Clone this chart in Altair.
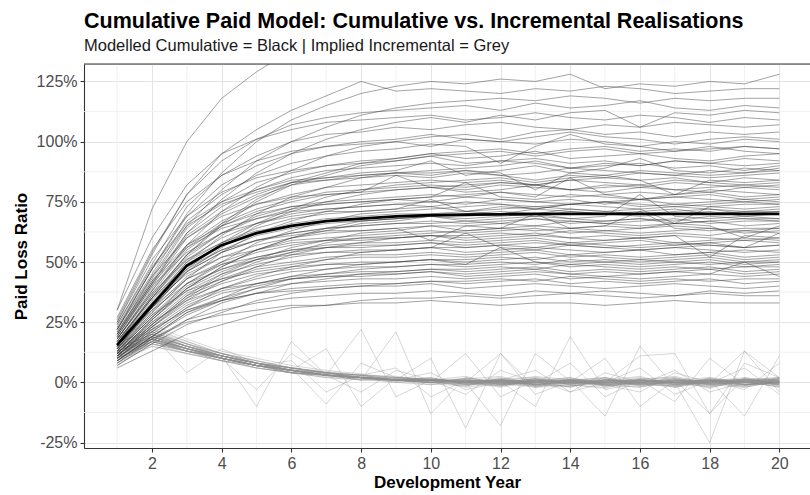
import altair as alt
import pandas as pd

# Development years on the x axis
dev_years = list(range(1, 21))

# Expected cumulative paid loss ratio (%) – the thick black path
expected_cumulative = [15.5, 32, 48.5, 57, 62, 65, 67, 68, 69, 69.5,
                       69.7, 69.8, 70, 70, 70, 70, 70, 70, 70, 70]

# Simulated cumulative paid loss ratios (%), one list per realisation
cumulative_paths = [
    [30, 72, 100, 118, 129, 138, 142, 145, 147, 149, 150, 151, 150, 152, 151, 150, 152, 151, 150, 151],
    [22, 47, 70, 87, 100, 109, 115, 120, 123, 125, 124, 126, 125, 128, 122, 124, 123, 125, 124, 128],
    [26, 54, 78, 95, 105, 113, 119, 125, 121, 122, 121, 120, 122, 121, 123, 122, 120, 121, 122, 122],
    [20, 44, 65, 80, 92, 100, 106, 111, 114, 116, 117, 118, 117, 119, 118, 116, 118, 117, 118, 118],
    [25, 53, 78, 92, 101, 107, 110, 112, 113, 114, 115, 113, 116, 114, 115, 117, 114, 113, 115, 114],
    [19, 41, 62, 76, 87, 95, 101, 105, 108, 110, 108, 111, 109, 112, 113, 106, 112, 111, 113, 112],
    [30, 60, 82, 95, 101, 105, 108, 109, 110, 111, 109, 110, 112, 110, 109, 111, 110, 108, 110, 109],
    [24, 49, 73, 86, 94, 100, 103, 104, 106, 105, 107, 108, 106, 105, 107, 106, 108, 107, 106, 107],
    [18, 38, 57, 71, 81, 88, 94, 98, 100, 102, 103, 101, 104, 105, 103, 104, 102, 104, 103, 104],
    [22, 47, 69, 82, 90, 95, 98, 100, 101, 103, 101, 100, 102, 104, 102, 101, 99, 101, 102, 101],
    [27, 55, 75, 86, 92, 96, 98, 99, 100, 98, 101, 100, 99, 101, 100, 98, 100, 99, 101, 100],
    [16, 35, 53, 66, 76, 83, 87, 91, 93, 95, 96, 97, 95, 97, 98, 96, 97, 96, 98, 97],
    [22, 45, 67, 78, 86, 91, 94, 96, 97, 99, 98, 91, 98, 103, 99, 98, 96, 97, 98, 97],
    [16, 36, 53, 65, 75, 82, 86, 90, 92, 94, 95, 96, 94, 96, 97, 95, 96, 98, 96, 95],
    [21, 43, 64, 75, 83, 87, 90, 92, 93, 95, 93, 94, 96, 93, 94, 95, 93, 92, 94, 95],
    [25, 51, 69, 79, 85, 88, 90, 91, 92, 94, 91, 92, 93, 91, 92, 90, 92, 91, 93, 92],
    [20, 42, 62, 73, 80, 85, 88, 89, 90, 91, 90, 92, 91, 89, 91, 90, 92, 91, 90, 91],
    [15, 33, 50, 61, 70, 77, 81, 85, 87, 88, 89, 90, 92, 89, 90, 91, 89, 90, 88, 90],
    [20, 41, 61, 71, 78, 83, 85, 87, 88, 92, 86, 88, 90, 87, 89, 93, 88, 87, 89, 88],
    [19, 40, 60, 70, 77, 82, 84, 86, 87, 87, 88, 86, 87, 89, 88, 87, 86, 88, 87, 89],
    [24, 48, 66, 75, 80, 84, 85, 86, 87, 86, 88, 87, 80, 87, 86, 88, 87, 86, 87, 88],
    [23, 47, 65, 74, 79, 83, 84, 85, 86, 85, 87, 86, 84, 86, 85, 87, 86, 85, 86, 87],
    [14, 31, 47, 58, 66, 72, 77, 80, 82, 83, 84, 85, 83, 85, 86, 84, 85, 83, 85, 84],
    [18, 39, 57, 67, 74, 78, 81, 82, 83, 84, 83, 84, 82, 84, 85, 84, 78, 84, 83, 84],
    [14, 31, 46, 56, 65, 71, 75, 78, 80, 81, 82, 83, 82, 84, 83, 82, 84, 83, 82, 83],
    [18, 38, 56, 66, 72, 76, 79, 80, 81, 82, 81, 83, 82, 80, 82, 81, 83, 82, 81, 82],
    [18, 37, 55, 65, 71, 75, 78, 79, 80, 81, 80, 82, 81, 80, 81, 82, 80, 81, 82, 81],
    [22, 44, 60, 69, 74, 77, 78, 79, 86, 81, 79, 80, 82, 80, 79, 81, 80, 79, 81, 80],
    [13, 29, 43, 54, 62, 67, 71, 74, 76, 77, 78, 79, 77, 85, 78, 79, 78, 80, 79, 78],
    [17, 36, 53, 62, 69, 73, 75, 76, 77, 78, 77, 79, 78, 77, 78, 76, 78, 79, 77, 78],
    [17, 35, 52, 62, 68, 72, 74, 75, 76, 77, 83, 77, 76, 78, 77, 76, 77, 78, 76, 77],
    [21, 42, 57, 65, 70, 73, 74, 75, 76, 75, 77, 76, 75, 76, 74, 76, 77, 76, 75, 76],
    [17, 35, 51, 60, 66, 70, 72, 73, 74, 75, 74, 76, 75, 74, 75, 76, 74, 75, 76, 75],
    [20, 41, 56, 64, 68, 71, 72, 73, 74, 73, 75, 74, 73, 74, 75, 74, 73, 74, 75, 74],
    [13, 27, 41, 50, 58, 63, 67, 70, 71, 72, 73, 74, 72, 74, 75, 73, 74, 73, 74, 74],
    [16, 34, 50, 58, 64, 68, 70, 71, 72, 76, 71, 73, 72, 74, 73, 72, 66, 73, 72, 73],
    [19, 40, 54, 62, 66, 69, 71, 71, 72, 73, 71, 72, 73, 72, 71, 72, 73, 72, 71, 72],
    [12, 26, 39, 48, 55, 60, 64, 67, 68, 69, 70, 71, 70, 72, 71, 70, 71, 72, 70, 71],
    [16, 33, 48, 57, 62, 66, 68, 69, 70, 70, 71, 70, 72, 71, 70, 71, 72, 70, 71, 71],
    [12, 26, 39, 48, 55, 60, 63, 66, 67, 69, 69, 70, 69, 71, 70, 69, 70, 71, 69, 70],
    [15, 32, 47, 55, 61, 64, 66, 67, 68, 69, 68, 69, 70, 68, 69, 78, 69, 68, 69, 68],
    [18, 37, 51, 58, 63, 65, 67, 67, 68, 69, 67, 68, 69, 68, 67, 68, 67, 69, 68, 68],
    [15, 31, 46, 54, 59, 62, 64, 65, 66, 67, 66, 67, 68, 66, 67, 68, 66, 67, 68, 67],
    [15, 31, 46, 54, 59, 62, 64, 65, 66, 66, 67, 66, 68, 67, 66, 67, 68, 66, 67, 67],
    [11, 24, 36, 45, 51, 56, 59, 62, 63, 65, 65, 66, 65, 67, 66, 65, 66, 67, 65, 66],
    [14, 30, 44, 52, 57, 60, 62, 63, 64, 59, 65, 64, 70, 64, 65, 64, 66, 65, 60, 65],
    [11, 24, 35, 44, 50, 54, 58, 60, 61, 62, 63, 64, 63, 64, 65, 71, 64, 63, 64, 64],
    [17, 35, 48, 55, 59, 61, 63, 63, 64, 65, 63, 64, 65, 64, 63, 64, 65, 64, 63, 64],
    [14, 29, 43, 50, 55, 59, 60, 61, 62, 63, 62, 63, 64, 62, 63, 62, 63, 64, 62, 63],
    [11, 23, 34, 42, 48, 53, 56, 58, 60, 61, 61, 62, 61, 63, 62, 61, 62, 61, 63, 62],
    [13, 28, 41, 49, 54, 57, 59, 60, 60, 61, 60, 61, 62, 60, 61, 60, 61, 52, 61, 60],
    [16, 33, 45, 52, 55, 58, 59, 59, 60, 61, 59, 60, 61, 60, 59, 60, 61, 60, 59, 60],
    [13, 27, 40, 47, 52, 55, 57, 58, 58, 59, 58, 59, 60, 58, 59, 60, 58, 59, 60, 59],
    [13, 27, 39, 46, 51, 54, 56, 57, 57, 58, 57, 58, 59, 57, 58, 59, 57, 58, 59, 58],
    [10, 21, 31, 39, 44, 48, 51, 54, 55, 56, 56, 57, 56, 58, 57, 56, 57, 58, 56, 57],
    [15, 31, 43, 49, 52, 55, 56, 56, 57, 58, 56, 57, 58, 57, 56, 57, 58, 57, 56, 57],
    [12, 26, 38, 45, 49, 52, 54, 55, 55, 56, 62, 56, 55, 57, 56, 55, 56, 57, 56, 62],
    [15, 30, 41, 47, 51, 53, 54, 54, 55, 56, 54, 55, 56, 55, 54, 55, 56, 55, 54, 55],
    [12, 25, 37, 43, 48, 50, 52, 53, 53, 54, 53, 54, 55, 53, 54, 55, 53, 54, 55, 54],
    [12, 24, 36, 42, 47, 49, 51, 52, 52, 53, 52, 53, 54, 52, 53, 52, 53, 54, 52, 53],
    [9, 19, 29, 35, 41, 44, 47, 49, 50, 51, 51, 52, 51, 53, 52, 51, 52, 53, 51, 52],
    [11, 23, 35, 41, 45, 47, 49, 50, 50, 51, 50, 51, 52, 50, 51, 50, 51, 52, 50, 51],
    [14, 28, 38, 43, 46, 48, 49, 49, 50, 51, 49, 56, 50, 49, 50, 51, 50, 49, 50, 50],
    [9, 19, 28, 34, 39, 43, 45, 47, 48, 49, 49, 50, 49, 51, 50, 49, 50, 51, 49, 50],
    [11, 23, 33, 39, 43, 46, 47, 48, 48, 49, 48, 49, 50, 48, 49, 48, 49, 50, 48, 49],
    [8, 18, 26, 33, 37, 41, 43, 45, 46, 47, 47, 48, 47, 49, 48, 47, 48, 47, 48, 48],
    [10, 22, 32, 38, 41, 44, 45, 46, 46, 47, 46, 47, 48, 46, 47, 46, 47, 48, 46, 47],
    [10, 21, 31, 37, 40, 43, 44, 45, 45, 46, 45, 46, 47, 45, 46, 45, 46, 47, 45, 46],
    [12, 25, 34, 39, 41, 43, 44, 44, 45, 46, 44, 45, 46, 45, 44, 45, 46, 45, 44, 45],
    [10, 20, 30, 35, 39, 41, 42, 43, 43, 44, 43, 44, 45, 43, 44, 43, 44, 45, 50, 44],
    [7, 16, 24, 29, 34, 37, 39, 40, 41, 42, 42, 43, 42, 44, 43, 42, 43, 42, 43, 43],
    [9, 19, 29, 34, 37, 39, 40, 41, 41, 42, 41, 42, 43, 41, 42, 41, 42, 43, 41, 42],
    [11, 22, 30, 34, 37, 38, 39, 40, 40, 41, 39, 40, 41, 40, 39, 40, 41, 40, 39, 40],
    [8, 17, 26, 30, 33, 35, 36, 37, 37, 38, 37, 36, 38, 37, 38, 37, 36, 38, 37, 38],
    [6, 13, 20, 24, 28, 31, 32, 34, 35, 35, 36, 35, 36, 37, 36, 35, 36, 37, 36, 36],
    [9, 18, 25, 28, 30, 32, 32, 33, 33, 34, 33, 32, 33, 33, 32, 33, 34, 33, 33, 33],
]

# Implied incremental paid loss ratios (%), one list per realisation
incremental_paths = [
    [13, 19, 15, 11, 8, 5, 3, 2.5, 1, 2, -1, 1.5, 2, -1, -2, 0.5, 2, -1, 0.5, -2],
    [10, 17, 14, 10, 7, 5, 4, 2, 0, -1, 2, -0.5, -2, -1.5, 1, 2.5, -1, 1, -2, 0.5],
    [16, 22, 17, 12, 9, 6, 4.5, 3, 2.5, 1, 1.5, 2.5, -1, 1, 2, -0.5, -2, 2, 0, 1.5],
    [8, 15, 12, 9, 7, 5, 3, 2, 1, 1.5, 0, -2, 0.5, 2, -1, -2, 1, -2.5, 1.5, -1],
    [20, 24, 18, 13, 10, 7, 5, 3.5, 2, 1, 2.5, -1, 1.5, 0, -1.5, 1, 2.5, -0.5, 1, 2],
    [12, 18, 13, 10, 7, 4, 3, 1, 1.5, -0.5, -1.5, 1, -2, 1, 1.5, -1, 1, -1.5, 0.5, -2],
    [14, 20, 16, 11, 8, 6, 4, 3, 1, 2, -1, 0.5, 2.5, 1, -0.5, 1, -2, 0.5, 2, -1.5],
    [7, 16, 13, 10, 6, 4, 2, 1.5, 0, 1, -2, 0, 1.5, -1, -2.5, 1.5, -0.5, -1.5, 1, 2],
    [11, 18, 14, 11, -10, 17, 3, 2, 1, 0, 1.5, -1, 0.5, -2, 1, 0, -1, 1.5, -1, 1],
    [15, 21, 15, 12, 8, 5, 4, 2, 2, 1.5, 0, 1, -1, 0.5, 2, -1.5, 0.5, 1, -0.5, 0],
    [12, 19, 14, 10, 7, 5, 14, -10, 2, 1, -0.5, -1.5, 1, 0, 0.5, 1.5, 2, -1, -2, 0.5],
    [13, 18, 13, 10, 7, 5, 3, 22, -6, 1, 0.5, -0.5, -1.5, 1, -1, 0.5, 0, -2, 1, 1.5],
    [10, 17, 13, 9, 6, 4, 3, 1, 21, -13, 2, 0, -0.5, 1.5, -1.5, 0, 1.5, 0.5, -1, 0],
    [14, 20, 4, 14, 8, 5, 3, 2, 1, 1, 0, 1.5, -1, -1.5, 0.5, 2, -0.5, 0, 1.5, -0.5],
    [11, 19, 15, 11, 8, 6, -9, 8, 2, 1, 0.5, 0, 1.5, -0.5, 1, -1, -1.5, 0.5, 0, 1.5],
    [12, 18, 14, 10, 7, 5, 3, 2, 1, 10, -19, 12, -2, 0, 0.5, 1, -1, 1.5, 0, -1.5],
    [13, 20, 15, 11, 8, 5, 3, 2, 1, 1, 0, -18, 12, 0.5, -1.5, 0, 1, -0.5, 0.5, 1],
    [10, 16, 13, 10, 7, 4, 3, 2, 1, 0, 12, -6, 1, -0.5, 0, -1.5, 0.5, 1.5, -1, 1],
    [15, 21, 16, 12, 8, 6, 4, 2, 1, 1, 0, 0.5, -10, 19, -3, 0, 1.5, -0.5, -1.5, 0],
    [12, 18, 14, 10, 7, 5, 3, 2, 1, 0, 1, -0.5, 0, 1, -14, 15, -2, 0, 1, -0.5],
    [11, 17, 13, 10, 7, 4, 3, 2, 1, 1.5, 0, -1, 1, 0, 10, -10, 1, -1, 0.5, -1],
    [13, 19, 14, 11, 8, 5, 4, 2, 1, 0, -0.5, 1, 0, 1.5, 0, 11, 12, -13, 2, 0.5],
    [14, 20, 15, 11, 8, 6, 4, 3, 1, 1, 0.5, -1, 0, -0.5, 1, 0.5, 0, -25, 13, 2],
    [7, 17, 13, 9, 7, 5, 3, 2, 1, 1, -1, 0.5, 1.5, 0, -0.5, 1, -8, 10, -1, 0],
    [12, 18, 14, 10, 7, 5, 3, 2, 1, 0, 0.5, 1, -1, -1.5, 0, 1, 0, 1, -14, 11],
    [11, 18, 14, 10, 7, 5, 3, 2, 1, 1, 0, -0.5, 1, -4, 4, 0, -1.5, 0.5, 1, 0],
    [13, 19, 15, 11, 8, 5, 3, 2, 1, 0, 1.5, 0, -1, 1, 0.5, -1, 0, -0.5, 6, -5],
    [9, 16, 12, 9, 6, 4, 3, 1, 1, 0.5, 0, -1.5, 0.5, 0, 1, -0.5, 1, -13, 8, 2],
    [15, 22, 16, 12, 9, 6, 4, 3, 2, 1, 0, 1.5, -0.5, 8, -6, 1, 0, 0.5, -1, 0],
    [12, 19, 14, 10, 7, 5, 3, 2, 1, 1, 0, 12, -5, 0.5, 0, 1, -0.5, 0, 1.5, -0.5],
    [11, 17, 13, 10, 7, 5, 3, 2, 1, 0, -1, 0.5, 1, -0.5, 0, 6, -5, 1, 0, 0.5],
    [13, 18, 14, 11, 7, 5, 3, 2, 1, 1, 0, 0.5, -1.5, 0, 1, 0.5, 0, -0.5, 13, -4],
    [14, 20, 15, 11, 8, 6, 4, 3, 6, -6, 1, -0.5, 0, -1, 0.5, 0, 1, 0, -0.5, 1],
    [10, 17, 13, 10, 7, 9, -4, 3, 1, 1, 0.5, 1, 0, 0.5, -1, 0, -0.5, 1, 0, 0.5],
    [16, 23, 17, 12, 9, 6, 4, 3, 2, 1, 1, 0.5, 0, 1, -0.5, 1, 0, 0.5, -1, 0],
    [9, 15, 12, 9, 6, 4, 2, 1, 1, 0, -0.5, 0, -1, 0.5, 0, -1, 0.5, 1, 0, -0.5],
    [12, 18, 14, 10, 7, 5, 3, 2, 1, 1, -5, 5, 0, 0.5, 1, 0, -1, 0.5, 0, 1],
    [13, 19, 14, 11, 8, 5, 3, 2, 1, 0, 0.5, 1, 5, -4, 0, -0.5, 0, 1, 1, 0],
    [11, 18, 14, 10, 7, 5, 3, 2, 1, 1, 0, 0.5, 0, 1, -0.5, -1, 5, -4, 0, 0.5],
    [14, 20, 15, 11, 8, 5, 3, 2, 1, 1, 0, 1, -0.5, 0, -1, 0.5, 0, 1, -3, 8],
    [12, 18, 14, 10, -3, 12, 3, 2, 1, 1, 0.5, 0, 1, -0.5, 0, 0.5, 1, 0, -1, 0],
    [10, 16, 13, 10, 7, 4, 3, 2, 1, 4, -3, 0, 0.5, 1, 0, -0.5, 0, -1, 0.5, 1],
    [17, 21, 16, 12, 8, 6, 4, 2, 1, 1, 0, 1, 0.5, 0, -0.5, 1, 0, 0.5, 1, 0],
    [13, 19, 15, 11, 8, 5, 3, 2, 1, 0, 1, 0, -0.5, 0.5, -1, -4, 4, 0, 0.5, 0],
    [11, 17, 13, 10, 7, 5, 3, -4, 5, 1, 0, 0.5, -1, 0, 0.5, 1, 0, -0.5, 0, -1],
    [14, 21, 16, 11, 8, 6, 4, 2.5, 1.5, 0.5, -1.5, 1, 0, -2, 1.5, -0.5, 1, 2, -1, -0.5],
    [9, 17, 14, 11, 7, 5, 3.5, 2, 0.5, 1, 1, -1, 2, 0.5, -1, -2, 0.5, -1, 1.5, 1],
    [12, 20, 15, 10, 8, 4.5, 3, 1.5, 1, -1, 0.5, 2, -1.5, 1, 0, 1.5, -1, 0, -1.5, 2],
    [15, 19, 14, 10, 7, 5.5, 3.5, 2, 1.5, 0.5, 1, -1.5, 1, -1, 2, -0.5, -1.5, 1, 1, -1],
    [10, 18, 13, 11, 8, 4, 2.5, 2, 0.5, 1, -0.5, 1, 0.5, 2, -1, 0, 1.5, -2, 0.5, 1.5],
]

# Axis breaks
x_major = [2, 4, 6, 8, 10, 12, 14, 16, 18, 20]
x_minor = [1, 3, 5, 7, 9, 11, 13, 15, 17, 19]
y_major = [-25, 0, 25, 50, 75, 100, 125]
y_minor = [-12.5, 12.5, 37.5, 62.5, 87.5, 112.5]

FONT = "Liberation Sans"
W, H = 726, 384
PAD_LEFT, PAD_TOP = 84, 64


def long_frame(paths, prefix):
    rows = []
    for i, path in enumerate(paths):
        for d, v in zip(dev_years, path):
            rows.append({"sim": f"{prefix}{i}", "dev": d, "ratio": v})
    return pd.DataFrame(rows)


cum_df = long_frame(cumulative_paths, "c")
inc_df = long_frame(incremental_paths, "i")
exp_df = pd.DataFrame({"dev": dev_years, "ratio": expected_cumulative})

x_scale = alt.Scale(domain=[0.05, 20.88], nice=False, zero=False)
y_scale = alt.Scale(domain=[-27.25, 132.25], nice=False, zero=False)

x_axis = alt.Axis(
    values=x_major, grid=True, gridColor="#E4E4E4", gridWidth=1.1,
    domainColor="#333333", domainWidth=1.1, tickColor="#333333", tickSize=4,
    tickWidth=1.1, labelFont=FONT, labelFontSize=16, labelColor="#4D4D4D",
    labelPadding=3, title="Development Year", titleFont=FONT, titleFontSize=17,
    titleFontWeight="bold", titleColor="#000000", titlePadding=3,
)
y_axis = alt.Axis(
    values=y_major, grid=True, gridColor="#E4E4E4", gridWidth=1.1,
    domainColor="#333333", domainWidth=1.1, tickColor="#333333", tickSize=4,
    tickWidth=1.1, labelFont=FONT, labelFontSize=16, labelColor="#4D4D4D",
    labelPadding=3, labelExpr="datum.value + '%'",
    title="Paid Loss Ratio", titleFont=FONT, titleFontSize=17,
    titleFontWeight="bold", titleColor="#000000", titlePadding=6,
)

X = alt.X("dev:Q", scale=x_scale, axis=x_axis)
Y = alt.Y("ratio:Q", scale=y_scale, axis=y_axis)

# Minor grid lines
minor_x = alt.Chart(pd.DataFrame({"dev": x_minor})).mark_rule(
    color="#EEEEEE", strokeWidth=0.8
).encode(x=X)
minor_y = alt.Chart(pd.DataFrame({"ratio": y_minor})).mark_rule(
    color="#EEEEEE", strokeWidth=0.8
).encode(y=Y)

incremental = alt.Chart(inc_df).mark_line(
    color="#8E8E8E", strokeWidth=0.8, opacity=0.45, clip=True
).encode(x=X, y=Y, detail="sim:N")

cumulative = alt.Chart(cum_df).mark_line(
    color="#383838", strokeWidth=0.75, opacity=0.62, clip=True
).encode(x=X, y=Y, detail="sim:N")

expected = alt.Chart(exp_df).mark_line(
    color="#000000", strokeWidth=2.8, clip=True
).encode(x=X, y=Y)

# Top panel border
top_border = alt.Chart(pd.DataFrame({"ratio": [132.25]})).mark_rule(
    color="#333333", strokeWidth=1.1
).encode(y=Y)

chart = alt.layer(
    minor_x, minor_y, incremental, cumulative, expected, top_border
).properties(
    width=W,
    height=H,
    title=alt.TitleParams(
        text="Cumulative Paid Model: Cumulative vs. Incremental Realisations",
        subtitle="Modelled Cumulative = Black | Implied Incremental = Grey",
        anchor="start", frame="group", font=FONT, fontSize=21.5,
        fontWeight="bold", color="#000000", subtitleFont=FONT,
        subtitleFontSize=16.5, subtitleColor="#1A1A1A", subtitlePadding=5,
        offset=9,
    ),
    autosize=alt.AutoSizeParams(type="none"),
    padding={"left": PAD_LEFT, "top": PAD_TOP, "right": 0, "bottom": 495 - PAD_TOP - H},
).configure_view(stroke=None).configure(background="#FFFFFF")

chart.save("out.html", embed_options={"renderer": "svg", "actions": False})
